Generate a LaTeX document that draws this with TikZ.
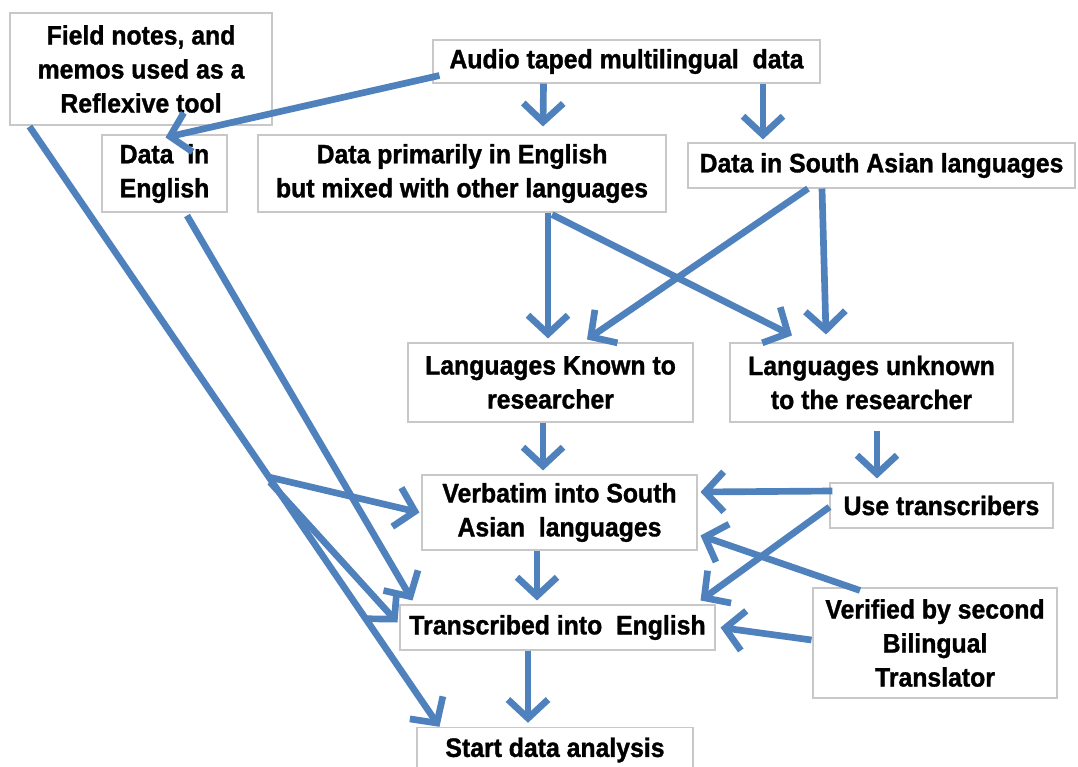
\documentclass[tikz,border=0pt]{standalone}
\usepackage{fontspec}
\setmainfont{Liberation Sans}[FakeStretch=0.93,BoldFeatures={FakeBold=1.2}]
\usetikzlibrary{arrows.meta,calc}
\definecolor{arr}{RGB}{79,129,189}
\definecolor{bx}{RGB}{200,200,200}
\begin{document}
\begin{tikzpicture}[x=0.75pt,y=-0.75pt,
  box/.style={draw=bx,line width=0.8pt,fill=white,align=center,inner sep=0pt,
    font=\fontsize{20}{25.5}\selectfont\bfseries},
  conn/.style={draw=arr,line width=5pt,-{Straight Barb[length=14pt,width=30pt]}},
]
\useasboundingbox (0,0) rectangle (1078,767);
\fill[white] (0,0) rectangle (1078,767);

\node[box,minimum width=196.5pt,minimum height=84pt] (fn) at (141,69) {Field notes, and\\memos used as a\\Reflexive tool};
\node[box,minimum width=290.25pt,minimum height=32.25pt] (audio) at (626.5,61.5) {Audio taped multilingual\ \ data};
\node[box,minimum width=93.75pt,minimum height=57.75pt] (den) at (164.5,173.5) {Data\ \ in\\English};
\node[box,minimum width=306pt,minimum height=57.75pt] (dpe) at (462,173.5) {Data primarily in English\\but mixed with other languages};
\node[box,minimum width=290.25pt,minimum height=33.75pt] (dsa) at (881.5,165.5) {Data in South Asian languages};
\node[box,minimum width=213.75pt,minimum height=59.25pt] (known) at (550.5,382.5) {Languages Known to\\researcher};
\node[box,minimum width=212.25pt,minimum height=59.25pt] (unknown) at (871.5,382.5) {Languages unknown\\to the researcher};
\node[box,minimum width=206.25pt,minimum height=56.25pt] (verb) at (559.5,512.5) {Verbatim into South\\Asian\ \ languages};
\node[box,minimum width=167.25pt,minimum height=33.75pt] (use) at (941.5,505.5) {Use transcribers};
\node[box,minimum width=236.25pt,minimum height=33.75pt] (trans) at (557.5,627.5) {Transcribed into\ \ English};
\node[box,minimum width=183pt,minimum height=82.5pt] (ver) at (935,643) {Verified by second\\Bilingual\\Translator};
\node[box,minimum width=207pt,minimum height=34pt] (start) at (555,750) {Start data analysis};

% top level
\draw[conn] ($(audio.west)+(7,14)$) -- ($(den.north)+(1,3)$);
\draw[conn] ($(audio.south)+(-83,0)$) -- ($(dpe.north)+(81,-8)$);
\draw[conn] ($(audio.south)+(136.5,0)$) -- ($(dsa.north)+(-118.5,-3)$);
% middle
\draw[conn] ($(dpe.south)+(86,0)$) -- ($(known.north)+(-2.5,-4)$);
\draw[conn] ($(dpe.south)+(90,2)$) -- ($(unknown.north)+(-79.5,-7)$);
\draw[conn] ($(dsa.south)+(-73.5,0)$) -- ($(known.north)+(36.5,-3)$);
\draw[conn] ($(dsa.south)+(-59.5,0)$) -- ($(unknown.north)+(-45.5,-8)$);
% lower
\draw[conn] ($(known.south)+(-7.5,0)$) -- ($(verb.north)+(-16.5,-4)$);
\draw[conn] ($(unknown.south)+(5.5,8)$) -- ($(use.north)+(-64.5,-4)$);
\draw[conn] ($(use.west)+(3,-14.5)$) -- ($(verb.east)+(3,-20.5)$);
\draw[conn] ($(use.west)+(0,1.5)$) -- ($(trans.north east)+(-15,-4)$);
\draw[conn] ($(ver.north)+(-75,3)$) -- ($(verb.east)+(3,23)$);
\draw[conn] ($(ver.west)+(-1,-3)$) -- ($(trans.east)+(5,0)$);
\draw[conn] ($(verb.south)+(-22.5,0)$) -- ($(trans.north)+(-20.5,-4)$);
\draw[conn] ($(trans.south)+(-29.5,0)$) -- ($(start.north)+(-27,-4)$);
% left side
\draw[conn] ($(den.south)+(22.5,3)$) -- ($(trans.north west)+(13,-4)$);
\coordinate (fa) at ($(fn.south west)+(20,1)$);
\coordinate (fb) at ($(start.north west)+(23,0)$);
\draw[conn] (fa) -- (fb);
\coordinate (j) at ($(fa)!0.584!(fb)$);
\draw[conn] (j) -- ($(verb.west)+(-2,0)$);
\draw[conn] ($(j)+(1,5)$) -- ($(trans.west)+(-2,-5)$);
\end{tikzpicture}
\end{document}
